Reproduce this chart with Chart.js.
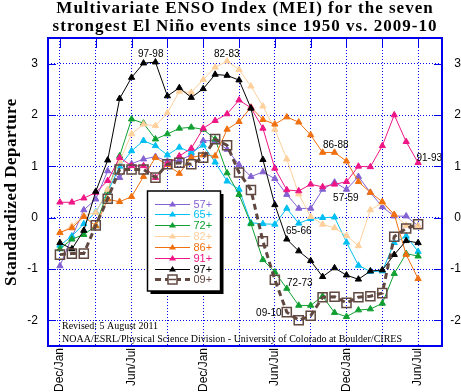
<!DOCTYPE html>
<html>
<head>
<meta charset="utf-8">
<script src="https://cdn.jsdelivr.net/npm/chart.js@4.4.0/dist/chart.umd.min.js"></script>
<style>
  html, body { margin: 0; padding: 0; background: #fff; }
  canvas { display: block; }
</style>
</head>
<body>
<canvas id="meiChart" width="461" height="392"></canvas>
<script>
// bimonthly seasons, Dec/Jan of the onset year through Jun/Jul two and a half years later
const seasons = [
  'Dec/Jan', 'Jan/Feb', 'Feb/Mar', 'Mar/Apr', 'Apr/May', 'May/Jun',
  'Jun/Jul', 'Jul/Aug', 'Aug/Sep', 'Sep/Oct', 'Oct/Nov', 'Nov/Dec',
  'Dec/Jan', 'Jan/Feb', 'Feb/Mar', 'Mar/Apr', 'Apr/May', 'May/Jun',
  'Jun/Jul', 'Jul/Aug', 'Aug/Sep', 'Sep/Oct', 'Oct/Nov', 'Nov/Dec',
  'Dec/Jan', 'Jan/Feb', 'Feb/Mar', 'Mar/Apr', 'Apr/May', 'May/Jun',
  'Jun/Jul'
];
const xGrid = [0, 3, 6, 9, 12, 15, 18, 21, 24, 27, 30];
const yTicks = [-2, -1, 0, 1, 2, 3];

// MEI values
const mei57 = [-0.94, -0.38, 0.15, 0.36, 0.91, 0.78, 1.05, 1.14, 1.19, 1.10, 1.12, 1.22, 1.50, 1.50, 1.33, 1.03,
  0.80, 0.89, 0.76, 0.45, 0.18, 0.18, 0.55, 0.69, 0.55, 0.80, 0.49, 0.21, 0.03, 0.03, -0.16];
const mei65 = [-0.54, -0.36, -0.12, 0.11, 0.50, 1.00, 1.30, 1.50, 1.40, 1.22, 1.37, 1.27, 1.41, 1.08, 0.71, 0.55,
  -0.10, -0.12, -0.13, 0.18, -0.11, -0.02, 0.00, 0.01, -0.48, -0.93, -1.05, -1.04, -0.49, -0.36, -0.66];
const mei72 = [-0.61, -0.42, -0.33, -0.16, 0.52, 1.20, 1.92, 1.84, 1.53, 1.63, 1.74, 1.76, 1.72, 1.53, 0.87, 0.45,
  -0.12, -0.82, -1.06, -1.38, -1.71, -1.71, -1.53, -1.85, -1.93, -1.80, -1.78, -1.67, -1.09, -0.70, -0.75];
const mei82 = [-0.30, -0.16, 0.04, 0.10, 0.55, 1.10, 1.63, 1.82, 1.79, 2.04, 2.46, 2.44, 2.69, 2.93, 3.05, 2.88,
  2.56, 2.17, 1.72, 1.14, 0.46, 0.02, -0.13, -0.20, -0.35, -0.55, 0.15, 0.29, 0.06, -0.15, -0.16];
const mei86 = [-0.29, -0.20, 0.02, -0.16, 0.36, 0.31, 0.41, 0.80, 1.17, 1.03, 0.86, 1.17, 1.22, 1.20, 1.72, 1.87,
  2.15, 1.91, 1.82, 1.96, 1.86, 1.61, 1.27, 1.27, 1.10, 0.70, 0.49, 0.31, 0.06, -0.72, -1.19];
const mei91 = [0.30, 0.30, 0.38, 0.49, 0.72, 1.17, 1.01, 1.01, 0.78, 1.05, 1.20, 1.35, 1.74, 1.89, 2.02, 2.29,
  2.14, 1.74, 0.96, 0.54, 0.52, 0.65, 0.60, 0.65, 0.70, 1.00, 0.99, 1.40, 2.00, 1.48, 1.07];
const mei97 = [-0.49, -0.61, -0.25, 0.51, 1.12, 2.32, 2.73, 3.01, 3.03, 2.37, 2.53, 2.34, 2.51, 2.79, 2.77, 2.68,
  2.13, 1.13, 0.25, -0.42, -0.65, -0.84, -1.15, -0.98, -1.12, -1.20, -1.04, -1.02, -0.72, -0.45, -0.49];
const mei09 = [-0.72, -0.70, -0.70, -0.15, 0.37, 0.94, 0.94, 0.94, 0.78, 1.04, 1.07, 1.04, 1.17, 1.53, 1.41, 0.88,
  0.54, -0.46, -1.21, -1.84, -2.00, -1.91, -1.55, -1.54, -1.66, -1.55, -1.53, -1.47, -0.37, -0.21, -0.13];

const seriesNames = ['57+', '65+', '72+', '82+', '86+', '91+', '97+', '09+'];
const seriesColors = ['#8462d2', '#00bff3', '#10a032', '#ffd09c', '#f07010', '#ee1685', '#000000', '#604840'];
const series = [mei57, mei65, mei72, mei82, mei86, mei91, mei97, mei09];

// event tags, placed in data units next to their curves
const eventTags = [
  { text: '97-98', x: 7.6, y: 3.19 },
  { text: '82-83', x: 13.97, y: 3.19 },
  { text: '86-88', x: 23.1, y: 1.41 },
  { text: '57-59', x: 23.95, y: 0.38 },
  { text: '91-93', x: 30.93, y: 1.16 },
  { text: '65-66', x: 20.0, y: -0.27 },
  { text: '72-73', x: 20.09, y: -1.28 },
  { text: '09-10', x: 17.5, y: -1.87 }
];

const gridBlue = '#0000ee';
const narrow = '"Liberation Sans Narrow", "Liberation Sans", Arial, sans-serif';
const serif = '"Liberation Serif", "Times New Roman", serif';

const datasets = series.map((vals, i) => {
  const isNow = i === series.length - 1;
  return {
    label: seriesNames[i],
    data: vals.map((v, k) => ({ x: k, y: v })),
    borderColor: seriesColors[i],
    backgroundColor: seriesColors[i],
    borderWidth: isNow ? 3 : 1,
    borderDash: isNow ? [6, 4] : [],
    pointStyle: isNow ? 'rect' : 'triangle',
    pointRadius: isNow ? 6.4 : 3.6,
    pointBackgroundColor: isNow ? 'rgba(0,0,0,0)' : seriesColors[i],
    pointBorderColor: seriesColors[i],
    pointBorderWidth: isNow ? 1.5 : 1,
    tension: 0,
    order: series.length - i
  };
});

const decor = {
  id: 'decor',
  afterDraw(chart) {
    const ctx = chart.ctx;
    const a = chart.chartArea;
    const xs = chart.scales.x;
    const ys = chart.scales.y;
    ctx.save();

    // frame and inner tick marks
    ctx.strokeStyle = gridBlue;
    ctx.lineWidth = 2;
    ctx.strokeRect(a.left, a.top, a.right - a.left, a.bottom - a.top);
    ctx.lineWidth = 1;
    ctx.beginPath();
    yTicks.forEach(v => {
      const y = Math.round(ys.getPixelForValue(v)) + 0.5;
      ctx.moveTo(a.left, y); ctx.lineTo(a.left + 8, y);
      ctx.moveTo(a.right - 8, y); ctx.lineTo(a.right, y);
    });
    xGrid.forEach(v => {
      const x = Math.round(xs.getPixelForValue(v)) + 0.5;
      ctx.moveTo(x, a.top); ctx.lineTo(x, a.top + 10);
    });
    ctx.stroke();

    // title
    const cx = (a.left + a.right) / 2;
    ctx.fillStyle = '#000';
    ctx.font = 'bold 17px ' + serif;
    ctx.letterSpacing = '1px';
    ctx.textAlign = 'center';
    ctx.textBaseline = 'alphabetic';
    ctx.fillText('Multivariate ENSO Index (MEI) for the seven', cx, 13);
    ctx.fillText('strongest El Ni\u00f1o events since 1950 vs. 2009-10', cx, 31);

    // y axis title
    ctx.save();
    ctx.letterSpacing = '0.5px';
    ctx.translate(12, (a.top + a.bottom) / 2);
    ctx.rotate(-Math.PI / 2);
    ctx.textBaseline = 'middle';
    ctx.fillText('Standardized Departure', 0, 0);
    ctx.restore();
    ctx.letterSpacing = '0px';

    // event tags
    ctx.font = '10px ' + narrow;
    ctx.textAlign = 'center';
    ctx.textBaseline = 'middle';
    eventTags.forEach(t => {
      ctx.fillText(t.text, xs.getPixelForValue(t.x), ys.getPixelForValue(t.y));
    });

    // credits
    ctx.font = '10px ' + serif;
    ctx.textAlign = 'left';
    ctx.fillText('Revised: 5 August 2011', 62, 326);
    ctx.fillText('NOAA/ESRL/Physical Science Division - University of Colorado at Boulder/CIRES', 62, 339.5);

    // legend box with drop shadow
    const bx = 147.5, by = 191, bw = 73, bh = 100;
    ctx.fillStyle = '#000';
    ctx.fillRect(bx + 3, by + 3, bw, bh);
    ctx.fillStyle = '#fff';
    ctx.fillRect(bx, by, bw, bh);
    ctx.strokeStyle = '#000';
    ctx.lineWidth = 1.5;
    ctx.strokeRect(bx, by, bw, bh);

    ctx.font = '11px ' + narrow;
    ctx.textAlign = 'left';
    ctx.textBaseline = 'middle';
    chart.data.datasets.forEach((ds, i) => {
      const y = Math.round(by + 12.5 + i * 10.85) + 0.5;
      ctx.save();
      ctx.strokeStyle = ds.borderColor;
      ctx.lineWidth = ds.borderWidth;
      ctx.setLineDash(ds.borderDash);
      ctx.beginPath();
      ctx.moveTo(155, y); ctx.lineTo(190, y);
      ctx.stroke();
      ctx.restore();
      if (ds.pointStyle === 'rect') {
        ctx.fillStyle = '#fff';
        ctx.fillRect(168, y - 4.5, 9, 9);
        ctx.strokeStyle = ds.borderColor;
        ctx.lineWidth = 1.5;
        ctx.strokeRect(168, y - 4.5, 9, 9);
        ctx.beginPath();
        ctx.moveTo(169, y); ctx.lineTo(176, y);
        ctx.stroke();
      } else {
        ctx.fillStyle = ds.borderColor;
        ctx.beginPath();
        ctx.moveTo(172.5, y - 3.5);
        ctx.lineTo(176, y + 2);
        ctx.lineTo(169, y + 2);
        ctx.closePath();
        ctx.fill();
      }
      ctx.fillStyle = ds.borderColor;
      ctx.fillText(ds.label, 193.5, y);
    });

    ctx.restore();
  }
};

const meiChart = new Chart(document.getElementById('meiChart'), {
  type: 'line',
  data: { datasets: datasets },
  options: {
    responsive: false,
    animation: false,
    events: [],
    layout: { padding: { top: 38, left: 0, right: 0, bottom: 0 } },
    plugins: {
      legend: { display: false },
      tooltip: { enabled: false },
      title: { display: false }
    },
    scales: {
      x: {
        type: 'linear',
        min: -1,
        max: 32,
        afterBuildTicks: s => { s.ticks = xGrid.map(v => ({ value: v })); },
        afterFit: s => { s.height = 46; },
        grid: { color: gridBlue, lineWidth: 1, drawTicks: false },
        border: { display: false, dash: [1, 2] },
        ticks: {
          autoSkip: false,
          minRotation: 90,
          maxRotation: 90,
          padding: 2,
          color: '#000',
          font: { family: narrow, size: 12 },
          callback: v => (v % 6 === 0 ? seasons[v] : '')
        }
      },
      y: {
        type: 'linear',
        position: 'left',
        min: -2.5,
        max: 3.5,
        afterBuildTicks: s => { s.ticks = yTicks.map(v => ({ value: v })); },
        afterFit: s => { s.width = 48; },
        grid: { color: gridBlue, lineWidth: 1, drawTicks: false },
        border: { display: false, dash: [1, 2] },
        ticks: {
          padding: 10,
          color: '#000',
          font: { family: '"Liberation Sans", Arial, sans-serif', size: 12 },
          callback: v => String(v)
        }
      },
      y2: {
        type: 'linear',
        position: 'right',
        min: -2.5,
        max: 3.5,
        afterBuildTicks: s => { s.ticks = yTicks.map(v => ({ value: v })); },
        afterFit: s => { s.width = 19; },
        grid: { drawOnChartArea: false, drawTicks: false },
        border: { display: false },
        ticks: {
          crossAlign: 'far',
          padding: 4,
          color: '#000',
          font: { family: '"Liberation Sans", Arial, sans-serif', size: 12 },
          callback: v => String(v)
        }
      }
    }
  },
  plugins: [decor]
});
</script>
</body>
</html>
